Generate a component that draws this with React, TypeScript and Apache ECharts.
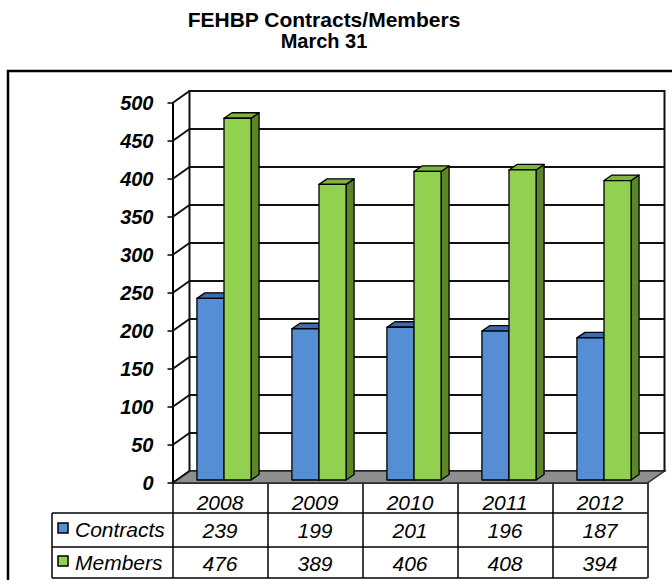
import React, { useEffect, useRef } from 'react';
import * as echarts from 'echarts';

const years = ['2008', '2009', '2010', '2011', '2012'];
const contracts = [239, 199, 201, 196, 187];
const members = [476, 389, 406, 408, 394];
const seriesNames = ['Contracts', 'Members'];
const yTicks = [0, 50, 100, 150, 200, 250, 300, 350, 400, 450, 500];
const yMin = 0;
const yMax = 500;
const yStep = 50;
const titleLines = ['FEHBP Contracts/Members', 'March 31'];

const FONT = '"Liberation Sans", Arial, sans-serif';
const FL = 172.5;
const FT = 103;
const FW = 475;
const FH = 380;
const DX = 17;
const DY = -12;
const BAR_DX = 4;
const BAR_DY = -3;
const SD_X = 8;
const SD_Y = -5.5;
const TABLE_LEFT = 52;
const ROW_LINES = [513, 547, 578];
const VAL_Y = [530, 563];
const KEY_Y = [523, 556];
const TITLE_SIZES = [21, 20];
const TITLE_Y = [19, 41];

const faceColors = [
  { front: '#558ED5', top: '#3A6BAE', side: '#2F5A92' },
  { front: '#92D050', top: '#7CB43E', side: '#5A8629' },
];

const makeBarRender = (si: number) => (params: any, api: any) => {
  const i = api.value(0);
  const v = api.value(1);
  const top = api.coord([i, v]);
  const base = api.coord([i, 0]);
  const band = api.size([1, 0])[0];
  const w = band * 0.285;
  const x0 = top[0] + BAR_DX + (si === 0 ? -w : 0);
  const x1 = x0 + w;
  const yT = top[1] + BAR_DY;
  const yB = base[1] + BAR_DY;
  const c = faceColors[si];
  const stroke = { stroke: '#000', lineWidth: 1.3, lineJoin: 'round' };
  return {
    type: 'group',
    children: [
      {
        type: 'polygon',
        shape: { points: [[x1, yT], [x1 + SD_X, yT + SD_Y], [x1 + SD_X, yB + SD_Y], [x1, yB]] },
        style: { fill: c.side, ...stroke },
      },
      {
        type: 'polygon',
        shape: { points: [[x0, yT], [x1, yT], [x1 + SD_X, yT + SD_Y], [x0 + SD_X, yT + SD_Y]] },
        style: { fill: c.top, ...stroke },
      },
      {
        type: 'rect',
        shape: { x: x0, y: yT, width: w, height: yB - yT },
        style: { fill: c.front, ...stroke },
      },
      {
        type: 'text',
        style: {
          text: String(v),
          x: top[0],
          y: VAL_Y[si],
          align: 'center',
          verticalAlign: 'middle',
          font: `italic 21px ${FONT}`,
          fill: '#000',
        },
      },
    ],
  };
};

const wallRender = (params: any, api: any) => {
  const v = api.value(1);
  const p = api.coord([0, v]);
  const y = p[1];
  const children: any[] = [];
  if (params.dataIndex === 0) {
    children.push({
      type: 'polygon',
      shape: { points: [[FL, y], [FL + FW, y], [FL + FW + DX, y + DY], [FL + DX, y + DY]] },
      style: { fill: '#8E8E8E', stroke: '#2a2a2a', lineWidth: 1.5 },
    });
  }
  children.push({
    type: 'line',
    shape: { x1: FL, y1: y, x2: FL + DX, y2: y + DY },
    style: { stroke: '#111', lineWidth: 2 },
  });
  return { type: 'group', children };
};

export default function App() {
  const ref = useRef<HTMLDivElement>(null);
  useEffect(() => {
    if (!ref.current) return;
    const chart = echarts.init(ref.current, null, { renderer: 'svg' });
    const graphics: any[] = [
      {
        type: 'rect',
        shape: { x: 8, y: 71, width: 720, height: 600 },
        style: { fill: 'none', stroke: '#000', lineWidth: 2.5 },
        silent: true,
      },
      ...titleLines.map((t, k) => ({
        type: 'text',
        style: {
          text: t,
          x: 324,
          y: TITLE_Y[k],
          align: 'center',
          verticalAlign: 'middle',
          font: `bold ${TITLE_SIZES[k]}px ${FONT}`,
          fill: '#000',
        },
      })),
      ...ROW_LINES.map((y) => ({
        type: 'line',
        shape: { x1: TABLE_LEFT, y1: y, x2: FL + FW, y2: y },
        style: { stroke: '#000', lineWidth: 1.5 },
      })),
      {
        type: 'line',
        shape: { x1: TABLE_LEFT, y1: ROW_LINES[0], x2: TABLE_LEFT, y2: ROW_LINES[2] },
        style: { stroke: '#000', lineWidth: 1.5 },
      },
      ...seriesNames.map((n, k) => ({
        type: 'rect',
        shape: { x: 58, y: KEY_Y[k], width: 10, height: 10 },
        style: { fill: faceColors[k].front, stroke: '#000', lineWidth: 1.5 },
      })),
      ...seriesNames.map((n, k) => ({
        type: 'text',
        style: {
          text: n,
          x: 75,
          y: VAL_Y[k] - 1,
          align: 'left',
          verticalAlign: 'middle',
          font: `italic 21px ${FONT}`,
          fill: '#000',
        },
      })),
    ];

    const option: any = {
      animation: false,
      backgroundColor: '#fff',
      graphic: { elements: graphics },
      grid: [
        { left: FL, top: FT, width: FW, height: FH, show: false },
        {
          left: FL + DX,
          top: FT + DY,
          width: FW,
          height: FH,
          show: true,
          borderColor: '#111',
          borderWidth: 2,
          backgroundColor: '#fff',
        },
      ],
      xAxis: [
        {
          type: 'category',
          gridIndex: 0,
          data: years,
          axisLine: { show: true, lineStyle: { color: '#000', width: 1.5 } },
          axisTick: { show: true, length: 95, alignWithLabel: false, lineStyle: { color: '#000', width: 1.5 } },
          axisLabel: {
            margin: 19,
            verticalAlign: 'middle',
            fontStyle: 'italic',
            fontSize: 21,
            fontFamily: FONT,
            color: '#000',
          },
          splitLine: { show: false },
        },
        { type: 'category', gridIndex: 1, data: years, show: false },
      ],
      yAxis: [
        {
          type: 'value',
          gridIndex: 0,
          min: yMin,
          max: yMax,
          interval: yStep,
          axisLine: { show: true, lineStyle: { color: '#000', width: 2 } },
          axisTick: { show: true, length: 5, lineStyle: { color: '#000', width: 1.5 } },
          axisLabel: {
            margin: 19,
            fontStyle: 'italic',
            fontWeight: 'bold',
            fontSize: 20,
            fontFamily: FONT,
            color: '#000',
          },
          splitLine: { show: false },
        },
        {
          type: 'value',
          gridIndex: 1,
          min: yMin,
          max: yMax,
          interval: yStep,
          axisLine: { show: false },
          axisTick: { show: false },
          axisLabel: { show: false },
          splitLine: { show: true, lineStyle: { color: '#111', width: 2 } },
        },
      ],
      series: [
        {
          type: 'custom',
          name: 'walls',
          xAxisIndex: 0,
          yAxisIndex: 0,
          z: 1,
          clip: false,
          renderItem: wallRender,
          data: yTicks.map((t) => [0, t]),
          silent: true,
        },
        {
          type: 'custom',
          name: seriesNames[0],
          xAxisIndex: 0,
          yAxisIndex: 0,
          z: 3,
          clip: false,
          renderItem: makeBarRender(0),
          encode: { x: 0, y: 1 },
          data: contracts.map((v, i) => [i, v]),
        },
        {
          type: 'custom',
          name: seriesNames[1],
          xAxisIndex: 0,
          yAxisIndex: 0,
          z: 4,
          clip: false,
          renderItem: makeBarRender(1),
          encode: { x: 0, y: 1 },
          data: members.map((v, i) => [i, v]),
        },
      ],
    };
    chart.setOption(option);
    return () => chart.dispose();
  }, []);
  return (
    <div
      ref={ref}
      style={{ position: 'absolute', left: 0, top: 0, width: 672, height: 580 }}
    />
  );
}
